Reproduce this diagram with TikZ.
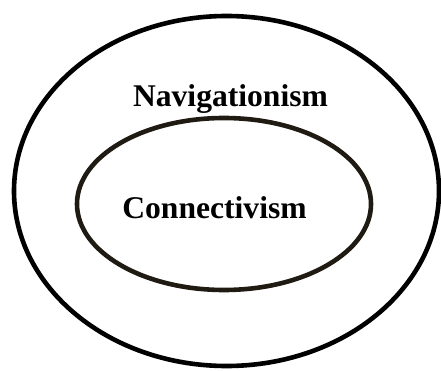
\documentclass[tikz,border=0pt]{standalone}
\usepackage{fontspec}
\setmainfont{Liberation Serif}
\definecolor{innerc}{HTML}{1F1B12}
\begin{document}
\begin{tikzpicture}[x=1pt,y=1pt,
  ring/.style={line width=4.6pt},
  lab/.style={font=\fontsize{31.6}{36}\selectfont\bfseries, anchor=base, inner sep=0pt}]
\useasboundingbox (0,0) rectangle (441,370);
\draw[ring] (226.5,179) ellipse [x radius=212.5, y radius=175];
\draw[ring, draw=innerc] (224,166) ellipse [x radius=147, y radius=86];
\node[lab] (nav) at (230.5,263) {Navigationism};
\node[lab] (con) at (214.5,152) {Connectivism};
\end{tikzpicture}
\end{document}
